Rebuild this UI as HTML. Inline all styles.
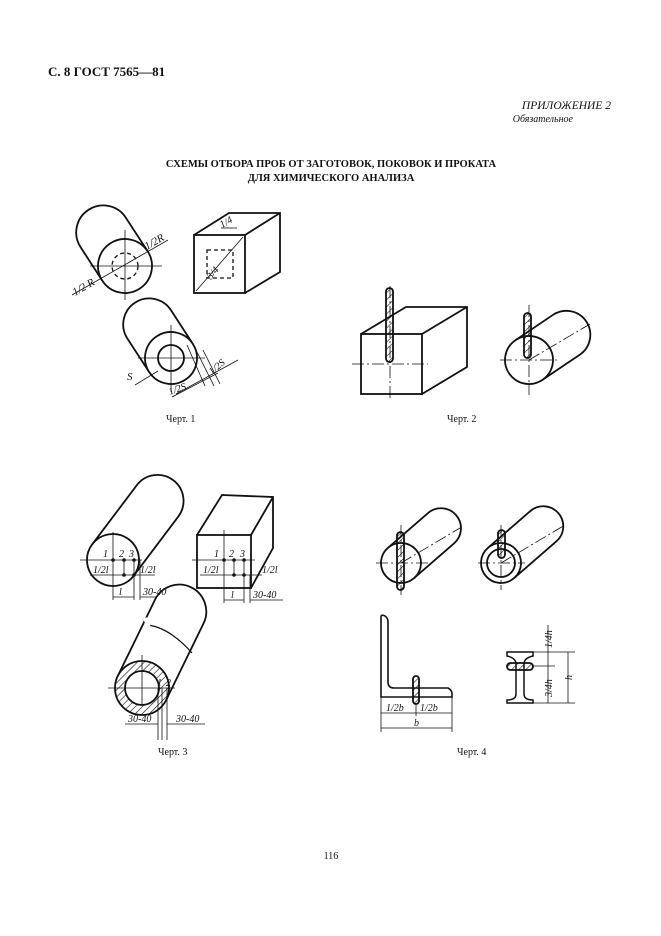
<!DOCTYPE html>
<html><head><meta charset="utf-8"><style>
html,body{margin:0;padding:0;background:#fff}
svg{display:block}
text{font-family:"Liberation Serif",serif;fill:#111}
.s{font-family:"Liberation Sans",sans-serif;font-style:italic;font-size:10px}
</style></head><body>
<svg width="661" height="936" viewBox="0 0 661 936" xmlns="http://www.w3.org/2000/svg">
<defs>
<pattern id="h" width="5" height="5" patternUnits="userSpaceOnUse" patternTransform="rotate(45)"><line x1="0" y1="0" x2="0" y2="5" stroke="#111" stroke-width="1.2"/></pattern>
</defs>
<text x="48" y="76" font-size="13" font-weight="bold">С. 8 ГОСТ 7565—81</text>
<text x="611" y="109" font-size="11.5" font-style="italic" text-anchor="end">ПРИЛОЖЕНИЕ 2</text>
<text x="573" y="122" font-size="10" font-style="italic" text-anchor="end">Обязательное</text>
<text x="331" y="167" font-size="10.5" font-weight="bold" text-anchor="middle">СХЕМЫ ОТБОРА ПРОБ ОТ ЗАГОТОВОК, ПОКОВОК И ПРОКАТА</text>
<text x="331" y="181" font-size="10.5" font-weight="bold" text-anchor="middle">ДЛЯ ХИМИЧЕСКОГО АНАЛИЗА</text>

<g fill="none" stroke="#111" stroke-width="1.8">
<!-- Chart1 cylinder -->
<g transform="translate(125,266) rotate(-123)"><path d="M0,-27 L40,-27 A27 27 0 0 1 40,27 L0,27" fill="#fff"/><circle r="27" fill="#fff"/></g>
<circle cx="125" cy="266" r="13" stroke-dasharray="4 3" stroke-width="1.3"/>
<g stroke-width="0.8"><line x1="90" y1="266" x2="162" y2="266"/><line x1="125" y1="230" x2="125" y2="300"/><line x1="72" y1="295" x2="168" y2="240"/></g>
<!-- cube -->
<path d="M194,235 L229,213 L280,213 L280,272 L245,293 M245,235 L280,213"/>
<rect x="194" y="235" width="51" height="58"/>
<rect x="207" y="250" width="26" height="28" stroke-dasharray="4 3" stroke-width="1.3"/>
<line x1="196" y1="291" x2="243" y2="237" stroke-width="0.8"/>
<line x1="221" y1="228" x2="237" y2="228" stroke-width="0.8"/>
<!-- tube -->
<g transform="translate(171,358) rotate(-123)"><path d="M0,-26 L40,-26 A26 26 0 0 1 40,26 L0,26" fill="#fff"/><circle r="26" fill="#fff"/></g>
<circle cx="171" cy="358" r="13"/>
<g stroke-width="0.8"><line x1="138" y1="358" x2="205" y2="358"/><line x1="171" y1="325" x2="171" y2="392"/><line x1="135" y1="385" x2="158" y2="371"/><line x1="176" y1="394" x2="238" y2="360"/><line x1="187" y1="345" x2="205" y2="386"/><line x1="196" y1="350" x2="214" y2="386"/><line x1="203" y1="350" x2="220" y2="384"/><line x1="172" y1="397" x2="218" y2="373"/></g>

<!-- Chart2 -->
<path d="M361,334 L406,307 L467,307 L467,367 L422,394 M422,334 L467,307"/>
<rect x="361" y="334" width="61" height="60"/>
<rect x="386" y="288" width="7" height="74" rx="3.5" fill="url(#h)"/>
<g stroke-width="0.8" stroke-dasharray="12 3 2 3"><line x1="352" y1="364" x2="428" y2="364"/><line x1="390" y1="286" x2="390" y2="400"/></g>
<g transform="translate(529,360) rotate(-34)"><path d="M0,-24 L45,-24 A24 24 0 0 1 45,24 L0,24" fill="#fff"/><circle r="24" fill="#fff"/></g>
<rect x="524" y="313" width="7" height="45" rx="3.5" fill="url(#h)"/>
<g stroke-width="0.8" stroke-dasharray="12 3 2 3"><line x1="500" y1="360" x2="560" y2="360"/><line x1="529" y1="305" x2="529" y2="395"/><line x1="529" y1="360" x2="590" y2="324"/></g>

<!-- Chart3 cylinder -->
<g transform="translate(113,560) rotate(-53)"><path d="M0,-26 L74,-26 A26 26 0 0 1 74,26 L0,26" fill="#fff"/><circle r="26" fill="#fff"/></g>
<g stroke-width="0.8"><line x1="80" y1="560" x2="142" y2="560"/><line x1="113" y1="532" x2="113" y2="600"/><line x1="124" y1="560" x2="124" y2="575"/><line x1="134" y1="560" x2="134" y2="600"/><line x1="140" y1="560" x2="140" y2="600"/><line x1="90" y1="575" x2="155" y2="575"/><line x1="113" y1="597" x2="134" y2="597"/><line x1="140" y1="597" x2="170" y2="597"/></g>
<g fill="#111" stroke="none"><circle cx="113" cy="560" r="1.8"/><circle cx="124" cy="560" r="1.8"/><circle cx="134" cy="560" r="1.8"/><circle cx="124" cy="575" r="1.8"/><circle cx="134" cy="575" r="1.8"/></g>
<!-- Chart3 box -->
<path d="M197,535 L222,495 L273,497 L273,548 L251,588 M251,535 L273,497"/>
<rect x="197" y="535" width="54" height="53"/>
<g stroke-width="0.8"><line x1="192" y1="560" x2="255" y2="560"/><line x1="224" y1="530" x2="224" y2="603"/><line x1="234" y1="560" x2="234" y2="575"/><line x1="244" y1="560" x2="244" y2="603"/><line x1="250" y1="575" x2="250" y2="603"/><line x1="200" y1="575" x2="262" y2="575"/><line x1="224" y1="600" x2="244" y2="600"/><line x1="250" y1="600" x2="283" y2="600"/></g>
<g fill="#111" stroke="none"><circle cx="224" cy="560" r="1.8"/><circle cx="234" cy="560" r="1.8"/><circle cx="244" cy="560" r="1.8"/><circle cx="234" cy="575" r="1.8"/><circle cx="244" cy="575" r="1.8"/></g>
<!-- Chart3 tube -->
<g transform="translate(142,688) rotate(-64)"><path d="M0,-27 L85,-27 A27 27 0 0 1 85,27 L0,27" fill="#fff"/></g>
<path d="M148,625 Q170,628 192,653" stroke-width="1.2"/>
<line x1="145" y1="618" x2="150" y2="630" stroke="#fff" stroke-width="4"/>
<circle cx="142" cy="688" r="27" fill="url(#h)"/>
<circle cx="142" cy="688" r="17" fill="#fff"/>
<g stroke-width="0.8"><line x1="108" y1="688" x2="175" y2="688"/><line x1="142" y1="655" x2="142" y2="705"/><line x1="158" y1="688" x2="158" y2="740"/><line x1="162" y1="688" x2="162" y2="740"/><line x1="167" y1="688" x2="167" y2="740"/><line x1="125" y1="724" x2="158" y2="724"/><line x1="167" y1="724" x2="205" y2="724"/></g>

<!-- Chart4 -->
<g transform="translate(401,563) rotate(-41)"><path d="M0,-20 L53,-20 A20 20 0 0 1 53,20 L0,20" fill="#fff"/><circle r="20" fill="#fff"/></g>
<rect x="397" y="532" width="7" height="58" rx="3.5" fill="url(#h)"/>
<g stroke-width="0.8" stroke-dasharray="12 3 2 3"><line x1="376" y1="563" x2="430" y2="563"/><line x1="401" y1="525" x2="401" y2="595"/><line x1="401" y1="563" x2="460" y2="528"/></g>
<g transform="translate(501,563) rotate(-41)"><path d="M0,-20 L56,-20 A20 20 0 0 1 56,20 L0,20" fill="#fff"/><circle r="20" fill="#fff"/></g>
<circle cx="501" cy="563" r="14"/>
<rect x="498" y="530" width="7" height="28" rx="3.5" fill="url(#h)"/>
<g stroke-width="0.8" stroke-dasharray="12 3 2 3"><line x1="478" y1="563" x2="525" y2="563"/><line x1="501" y1="525" x2="501" y2="590"/><line x1="501" y1="563" x2="565" y2="525"/></g>
<!-- angle -->
<path d="M381,697 L381,617 Q381,614 385,616 Q388,618 388,622 L388,682 Q388,688 394,688 L448,688 Q452,690 452,694 L452,697 Z" stroke-width="1.6"/>
<rect x="413" y="676" width="6" height="28" rx="3" fill="url(#h)"/>
<g stroke-width="0.8"><line x1="381" y1="697" x2="381" y2="732"/><line x1="452" y1="697" x2="452" y2="732"/><line x1="416" y1="704" x2="416" y2="716"/><line x1="381" y1="713" x2="452" y2="713"/><line x1="381" y1="728" x2="452" y2="728"/></g>
<!-- I-beam -->
<path d="M507,652 L533,652 L533,656 Q524,658 524,664 L524,694 Q524,700 533,700 L533,703 L507,703 L507,700 Q516,700 516,694 L516,664 Q516,658 507,656 Z" stroke-width="1.5"/>
<rect x="507" y="663" width="26" height="7" rx="3.5" fill="url(#h)"/>
<g stroke-width="0.8"><line x1="533" y1="652" x2="575" y2="652"/><line x1="533" y1="666" x2="555" y2="666"/><line x1="533" y1="703" x2="575" y2="703"/><line x1="548" y1="625" x2="548" y2="703"/><line x1="568" y1="652" x2="568" y2="703"/></g>
</g>

<g class="s">
<text transform="translate(75,296) rotate(-30)" font-size="11">1/2 R</text>
<text transform="translate(147,250) rotate(-30)" font-size="11">1/2R</text>
<text transform="translate(222,228) rotate(-30)">1/4</text>
<text transform="translate(211,280) rotate(-50)">3/4</text>
<text x="127" y="380" font-size="11">S</text>
<text transform="translate(170,395) rotate(-20)">1/2S</text>
<text transform="translate(212,375) rotate(-40)">1/2S</text>
<text x="103" y="557">1</text><text x="119" y="557">2</text><text x="129" y="557">3</text>
<text x="93" y="573">1/2l</text><text x="140" y="573">1/2l</text>
<text x="119" y="595">l</text><text x="143" y="595">30-40</text>
<text x="214" y="557">1</text><text x="229" y="557">2</text><text x="240" y="557">3</text>
<text x="203" y="573">1/2l</text><text x="262" y="573">1/2l</text>
<text x="231" y="598">l</text><text x="253" y="598">30-40</text>
<text x="157" y="686">1</text><text x="166" y="686">2</text>
<text x="128" y="722">30-40</text><text x="176" y="722">30-40</text>
<text x="386" y="711">1/2b</text><text x="420" y="711">1/2b</text>
<text x="414" y="726">b</text>
<text transform="translate(552,648) rotate(-90)">1/4h</text>
<text transform="translate(552,697) rotate(-90)">3/4h</text>
<text transform="translate(572,680) rotate(-90)">h</text>
</g>

<g font-size="10">
<text x="166" y="422">Черт. 1</text>
<text x="447" y="422">Черт. 2</text>
<text x="158" y="755">Черт. 3</text>
<text x="457" y="755">Черт. 4</text>
<text x="331" y="859" text-anchor="middle">116</text>
</g>
</svg>
</body></html>
